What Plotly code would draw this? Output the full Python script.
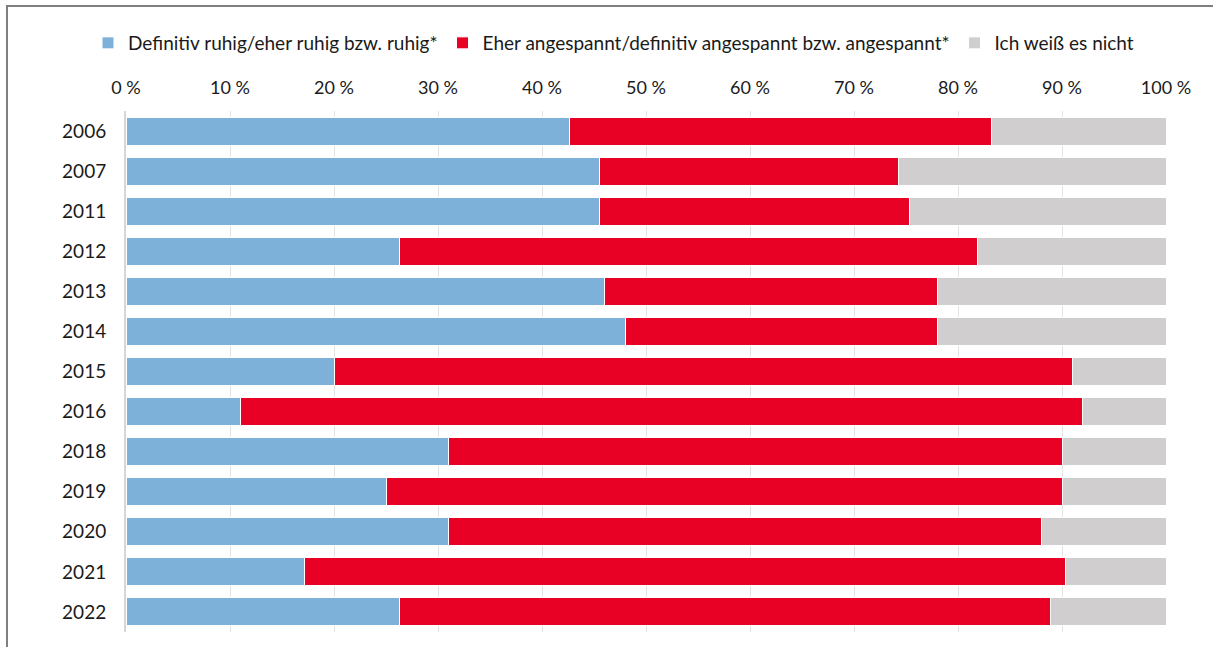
import plotly.graph_objects as go

years = ["2006", "2007", "2011", "2012", "2013", "2014", "2015", "2016", "2018", "2019", "2020", "2021", "2022"]
ruhig = [42.6, 45.5, 45.5, 26.3, 46.0, 48.0, 20.0, 11.0, 31.0, 25.0, 31.0, 17.2, 26.3]
angespannt = [40.6, 28.8, 29.8, 55.6, 32.0, 30.0, 71.0, 81.0, 59.0, 65.0, 57.0, 73.1, 62.6]
weiss_nicht = [16.8, 25.7, 24.7, 18.1, 22.0, 22.0, 9.0, 8.0, 10.0, 10.0, 12.0, 9.7, 11.1]

series_names = [
    "Definitiv ruhig/eher ruhig bzw. ruhig*",
    "Eher angespannt/definitiv angespannt bzw. angespannt*",
    "Ich weiß es nicht",
]
series_colors = ["#7EB1D9", "#E80025", "#D0CECF"]

tick_vals = [0, 10, 20, 30, 40, 50, 60, 70, 80, 90, 100]
tick_text = ["0 %", "10 %", "20 %", "30 %", "40 %", "50 %",
             "60 %", "70 %", "80 %", "90 %", "100 %"]

FONT = "Lato"

fig = go.Figure()
for name, vals, col in zip(series_names, [ruhig, angespannt, weiss_nicht], series_colors):
    fig.add_trace(go.Bar(
        y=years, x=vals, name=name, orientation="h",
        marker=dict(color=col, line=dict(color="white", width=1)),
    ))

W, H = 1213, 647
ml, mr, mt, mb = 126, 47, 111, 15
pw, ph = W - ml - mr, H - mt - mb

def px_x(p):
    return (p - ml) / pw

def px_y(p):
    return (H - mb - p) / ph

fig.update_layout(
    width=W, height=H,
    barmode="stack", bargap=0.3,
    margin=dict(l=ml, r=mr, t=mt, b=mb, pad=0),
    paper_bgcolor="white", plot_bgcolor="white",
    font=dict(family=FONT, size=18, color="#1a1a1a"),
    legend=dict(
        orientation="h", x=px_x(88), y=px_y(43), xanchor="left", yanchor="middle",
        font=dict(family=FONT, size=19, color="#1a1a1a"),
        traceorder="normal", itemwidth=30, bgcolor="rgba(0,0,0,0)",
    ),
    xaxis=dict(
        side="top", range=[0, 100], tickvals=tick_vals, ticktext=tick_text,
        showgrid=True, gridcolor="#E3E3E3", gridwidth=1,
        zeroline=False, showline=False, ticks="", ticklabelstandoff=12,
        tickfont=dict(family=FONT, size=18, color="#1a1a1a"),
        fixedrange=True,
    ),
    yaxis=dict(
        type="category", autorange="reversed",
        showline=True, linecolor="#D6D6D6", linewidth=2,
        showgrid=False, zeroline=False, ticks="", ticklabelstandoff=14,
        tickfont=dict(family=FONT, size=19, color="#1a1a1a"),
    ),
    shapes=[
        dict(type="line", xref="paper", yref="paper",
             x0=px_x(6), x1=px_x(W + 2), y0=px_y(6), y1=px_y(6),
             line=dict(color="#7F7F7F", width=2)),
        dict(type="line", xref="paper", yref="paper",
             x0=px_x(7), x1=px_x(7), y0=px_y(5), y1=px_y(H + 2),
             line=dict(color="#7F7F7F", width=2)),
    ],
)

fig.write_html("out.html", config={"displayModeBar": False},
               post_script="document.body.style.margin='0px';")
